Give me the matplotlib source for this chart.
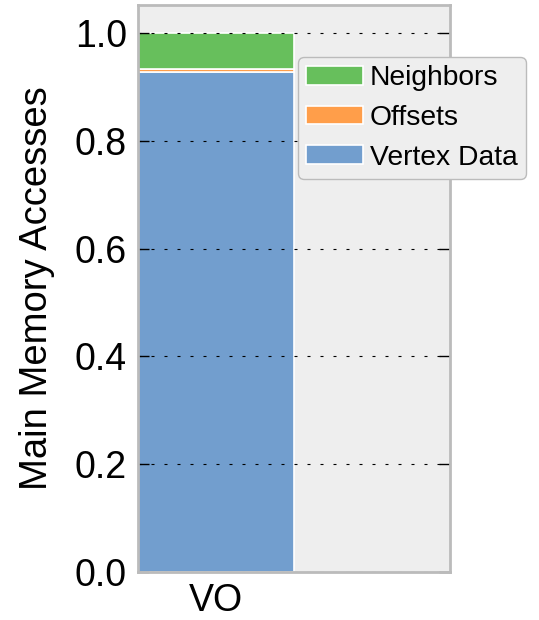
import matplotlib
matplotlib.use("Agg")
import matplotlib.pyplot as plt
import numpy as np

plt.rcParams['font.family'] = ['Liberation Sans', 'DejaVu Sans']

# Stacked shares of main memory accesses
categories = ["VO"]
vertex_data = [0.928]
offsets = [0.005]
neighbors = [0.067]

series_names = ["Vertex Data", "Offsets", "Neighbors"]
series_colors = ["#729ECE", "#FF9E4A", "#67BF5C"]
yticks = [0.0, 0.2, 0.4, 0.6, 0.8, 1.0]

fig = plt.figure(figsize=(5.39, 6.2), dpi=100)
ax = fig.add_axes([0.256, 0.0774, 0.579, 0.9146])
ax.set_facecolor("#EEEEEE")

x = np.arange(len(categories))
bottom = np.zeros(len(categories))
handles = []
for name, vals, col in zip(series_names, [vertex_data, offsets, neighbors], series_colors):
    b = ax.bar(x, vals, width=1.0, bottom=bottom, color=col, edgecolor="white",
               linewidth=1.2, label=name, zorder=2)
    handles.append(b)
    bottom += np.array(vals)

ax.set_xlim(-0.5, 1.5)
ax.set_ylim(0, 1.052)
ax.set_xticks(x)
ax.set_xticklabels(categories, fontsize=27)
ax.set_yticks(yticks)
ax.set_yticklabels([f"{v:.1f}" for v in yticks], fontsize=27)
ax.set_ylabel("Main Memory Accesses", fontsize=27.5, labelpad=14)

ax.yaxis.grid(True, color="black", linestyle=(0, (2.7, 9)), linewidth=0.8, zorder=3)
ax.set_axisbelow(False)
ax.tick_params(axis="y", direction="in", length=8, width=1, left=True, right=True,
               color="black", pad=8)
ax.tick_params(axis="x", length=0, pad=8)

for s in ax.spines.values():
    s.set_color("#BBBBBB")
    s.set_linewidth(2)
    s.set_zorder(4)

leg = ax.legend(handles[::-1], series_names[::-1], loc="upper left",
                bbox_to_anchor=(298 / 539, 1 - 57 / 620), bbox_transform=fig.transFigure,
                fontsize=20.3, frameon=True, fancybox=True, handlelength=2.0,
                handleheight=0.62, handletextpad=0.25, borderpad=0.3, labelspacing=0.48,
                borderaxespad=0)
leg.get_frame().set_facecolor("#EEEEEE")
leg.get_frame().set_edgecolor("#BBBBBB")
leg.get_frame().set_alpha(1)
leg.set_zorder(5)

fig.savefig("out.png", dpi=100)
